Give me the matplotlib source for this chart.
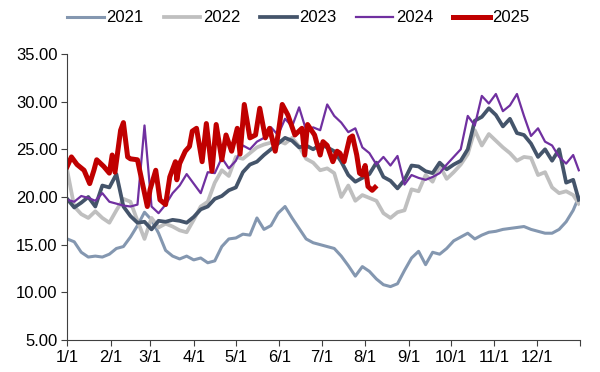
import matplotlib
matplotlib.use("Agg")
import matplotlib.pyplot as plt

plt.rcParams['font.family'] = ['Liberation Sans', 'DejaVu Sans']

# day of year (0 = 1/1), read roughly every 5 days
days = list(range(0, 365, 5)) + [364]

y2021 = [15.6, 15.3, 14.2, 13.7, 13.8, 13.7, 14.0, 14.6, 14.8, 15.8,
         17.0, 18.4, 17.6, 16.2, 14.4, 13.8, 13.5, 13.8, 13.4, 13.6,
         13.1, 13.3, 14.8, 15.6, 15.7, 16.1, 16.0, 17.8, 16.6, 17.0,
         18.3, 19.0, 17.8, 16.7, 15.6, 15.2, 15.0, 14.8, 14.6, 13.8,
         12.8, 11.7, 12.7, 12.2, 11.4, 10.8, 10.6, 10.9, 12.3, 13.6,
         14.3, 12.9, 14.2, 14.0, 14.6, 15.4, 15.8, 16.2, 15.6, 16.0,
         16.3, 16.4, 16.6, 16.7, 16.8, 16.9, 16.6, 16.4, 16.2, 16.2,
         16.6, 17.4, 18.6, 20.0]

y2022 = [22.8, 19.0, 18.2, 17.8, 18.5, 17.8, 17.3, 18.6, 19.8, 19.5,
         17.5, 15.6, 17.8, 16.8, 17.2, 16.9, 16.5, 16.3, 17.6, 19.0,
         19.5, 21.5, 22.8, 22.2, 24.2, 24.0, 24.6, 25.2, 25.5, 25.7,
         25.9, 25.6, 26.2, 25.3, 24.0, 23.6, 22.8, 23.0, 22.5, 20.0,
         21.2, 19.6, 20.2, 19.9, 19.6, 18.3, 17.8, 18.4, 18.6, 20.8,
         20.6, 22.3, 21.6, 23.3, 21.9, 22.6, 23.4, 24.5, 27.0, 25.4,
         26.6, 25.9, 25.2, 24.6, 23.8, 24.2, 24.1, 22.3, 22.6, 21.0,
         20.4, 20.6, 20.2, 19.3]

y2023 = [19.8, 18.9, 19.4, 20.0, 19.0, 21.2, 21.0, 22.4, 19.0, 18.0,
         17.3, 17.4, 16.6, 17.5, 17.4, 17.6, 17.5, 17.3, 17.9, 18.7,
         19.0, 19.8, 20.1, 20.7, 21.0, 22.6, 23.4, 23.7, 24.4, 25.0,
         25.6, 26.2, 25.9, 25.2, 25.4, 25.0, 25.5, 25.2, 24.8, 23.7,
         22.3, 21.6, 22.0, 22.4, 23.6, 22.1, 21.7, 20.9, 21.8, 23.3,
         23.2, 22.7, 22.5, 23.6, 22.9, 23.4, 23.8, 25.0, 28.0, 28.4,
         29.3, 28.6, 27.4, 28.2, 26.7, 26.5, 25.6, 24.2, 25.0, 23.8,
         25.0, 21.5, 21.8, 19.7]

y2024 = [19.7, 19.5, 20.1, 19.9, 19.6, 20.4, 19.5, 19.3, 19.1, 19.0,
         19.2, 27.5, 19.0, 18.3, 19.2, 20.4, 21.2, 22.4, 21.4, 20.4,
         22.6, 22.5, 24.1, 23.0, 23.8, 25.4, 25.0, 25.8, 26.2, 27.3,
         26.5, 28.2, 27.4, 29.4, 27.0, 27.3, 27.0, 29.7, 28.5, 27.8,
         26.8, 27.2, 25.2, 24.6, 23.4, 24.2, 23.3, 24.3, 21.3, 22.3,
         22.0, 21.8, 22.1, 22.5, 23.4, 24.2, 25.0, 28.5, 27.5, 30.6,
         29.8, 30.8, 29.0, 29.6, 30.8, 28.5, 26.4, 27.2, 25.8, 25.4,
         24.2, 23.5, 24.4, 22.8]

# 2025 only runs to early August
days2025 = [0, 3, 7, 12, 16, 19, 21, 26, 30, 32, 34, 38, 40, 43, 45, 50, 53,
            57, 59, 63, 66, 70, 73, 77, 78, 80, 84, 87, 89, 92, 96, 99, 103,
            106, 110, 113, 117, 121, 123, 126, 130, 134, 137, 141, 144, 148,
            150, 153, 157, 162, 167, 169, 171, 176, 180, 182, 185, 189, 192,
            194, 197, 201, 203, 206, 208, 210, 212, 214, 217, 219]
y2025 = [23.2, 24.2, 23.4, 22.8, 21.4, 22.8, 23.9, 23.2, 22.5, 24.4, 22.6,
         27.0, 27.8, 24.2, 24.0, 23.9, 21.8, 19.0, 20.8, 22.8, 19.7, 19.2,
         22.1, 23.7, 21.8, 23.5, 24.8, 25.3, 26.9, 27.2, 23.7, 27.7, 22.7,
         27.6, 23.9, 26.5, 24.8, 27.2, 24.5, 29.7, 26.2, 26.5, 29.3, 26.2,
         27.2, 24.8, 26.5, 29.7, 28.6, 26.5, 27.2, 24.4, 27.6, 26.5, 24.4,
         25.8, 25.4, 23.7, 24.8, 24.6, 23.7, 26.2, 26.4, 24.4, 22.5, 22.3,
         23.3, 21.1, 20.7, 21.0]

month_starts = [0, 31, 59, 90, 120, 151, 181, 212, 243, 273, 304, 334, 365]
month_labels = ['1/1', '2/1', '3/1', '4/1', '5/1', '6/1', '7/1', '8/1',
                '9/1', '10/1', '11/1', '12/1', '']

fig = plt.figure(figsize=(6, 3.72), dpi=100)
ax = fig.add_axes([0.112, 0.086, 0.855, 0.769])

l1, = ax.plot(days, y2021, color='#8497B0', lw=2.2, label='2021')
l2, = ax.plot(days, y2022, color='#BFBFBF', lw=2.7, label='2022')
l3, = ax.plot(days, y2023, color='#44546A', lw=2.7, label='2023')
l4, = ax.plot(days, y2024, color='#7030A0', lw=1.6, label='2024')
l5, = ax.plot(days2025, y2025, color='#C00000', lw=3.6, label='2025')

ax.set_xlim(0, 365)
ax.set_ylim(5, 35)
ax.set_xticks(month_starts)
ax.set_xticklabels(month_labels)
ax.set_yticks(range(5, 36, 5))
ax.set_yticklabels(['%.2f' % v for v in range(5, 36, 5)])
ax.tick_params(labelsize=12, length=4, color='#404040', pad=3)
for s in ['top', 'right']:
    ax.spines[s].set_visible(False)
for s in ['left', 'bottom']:
    ax.spines[s].set_color('#404040')

fig.legend(handles=[l1, l2, l3, l4, l5], loc='center', ncol=5,
           bbox_to_anchor=(0.497, 0.952), frameon=False, fontsize=12,
           handlelength=2.2, handletextpad=0.15, columnspacing=1.2)

fig.savefig('out.png', dpi=100)
